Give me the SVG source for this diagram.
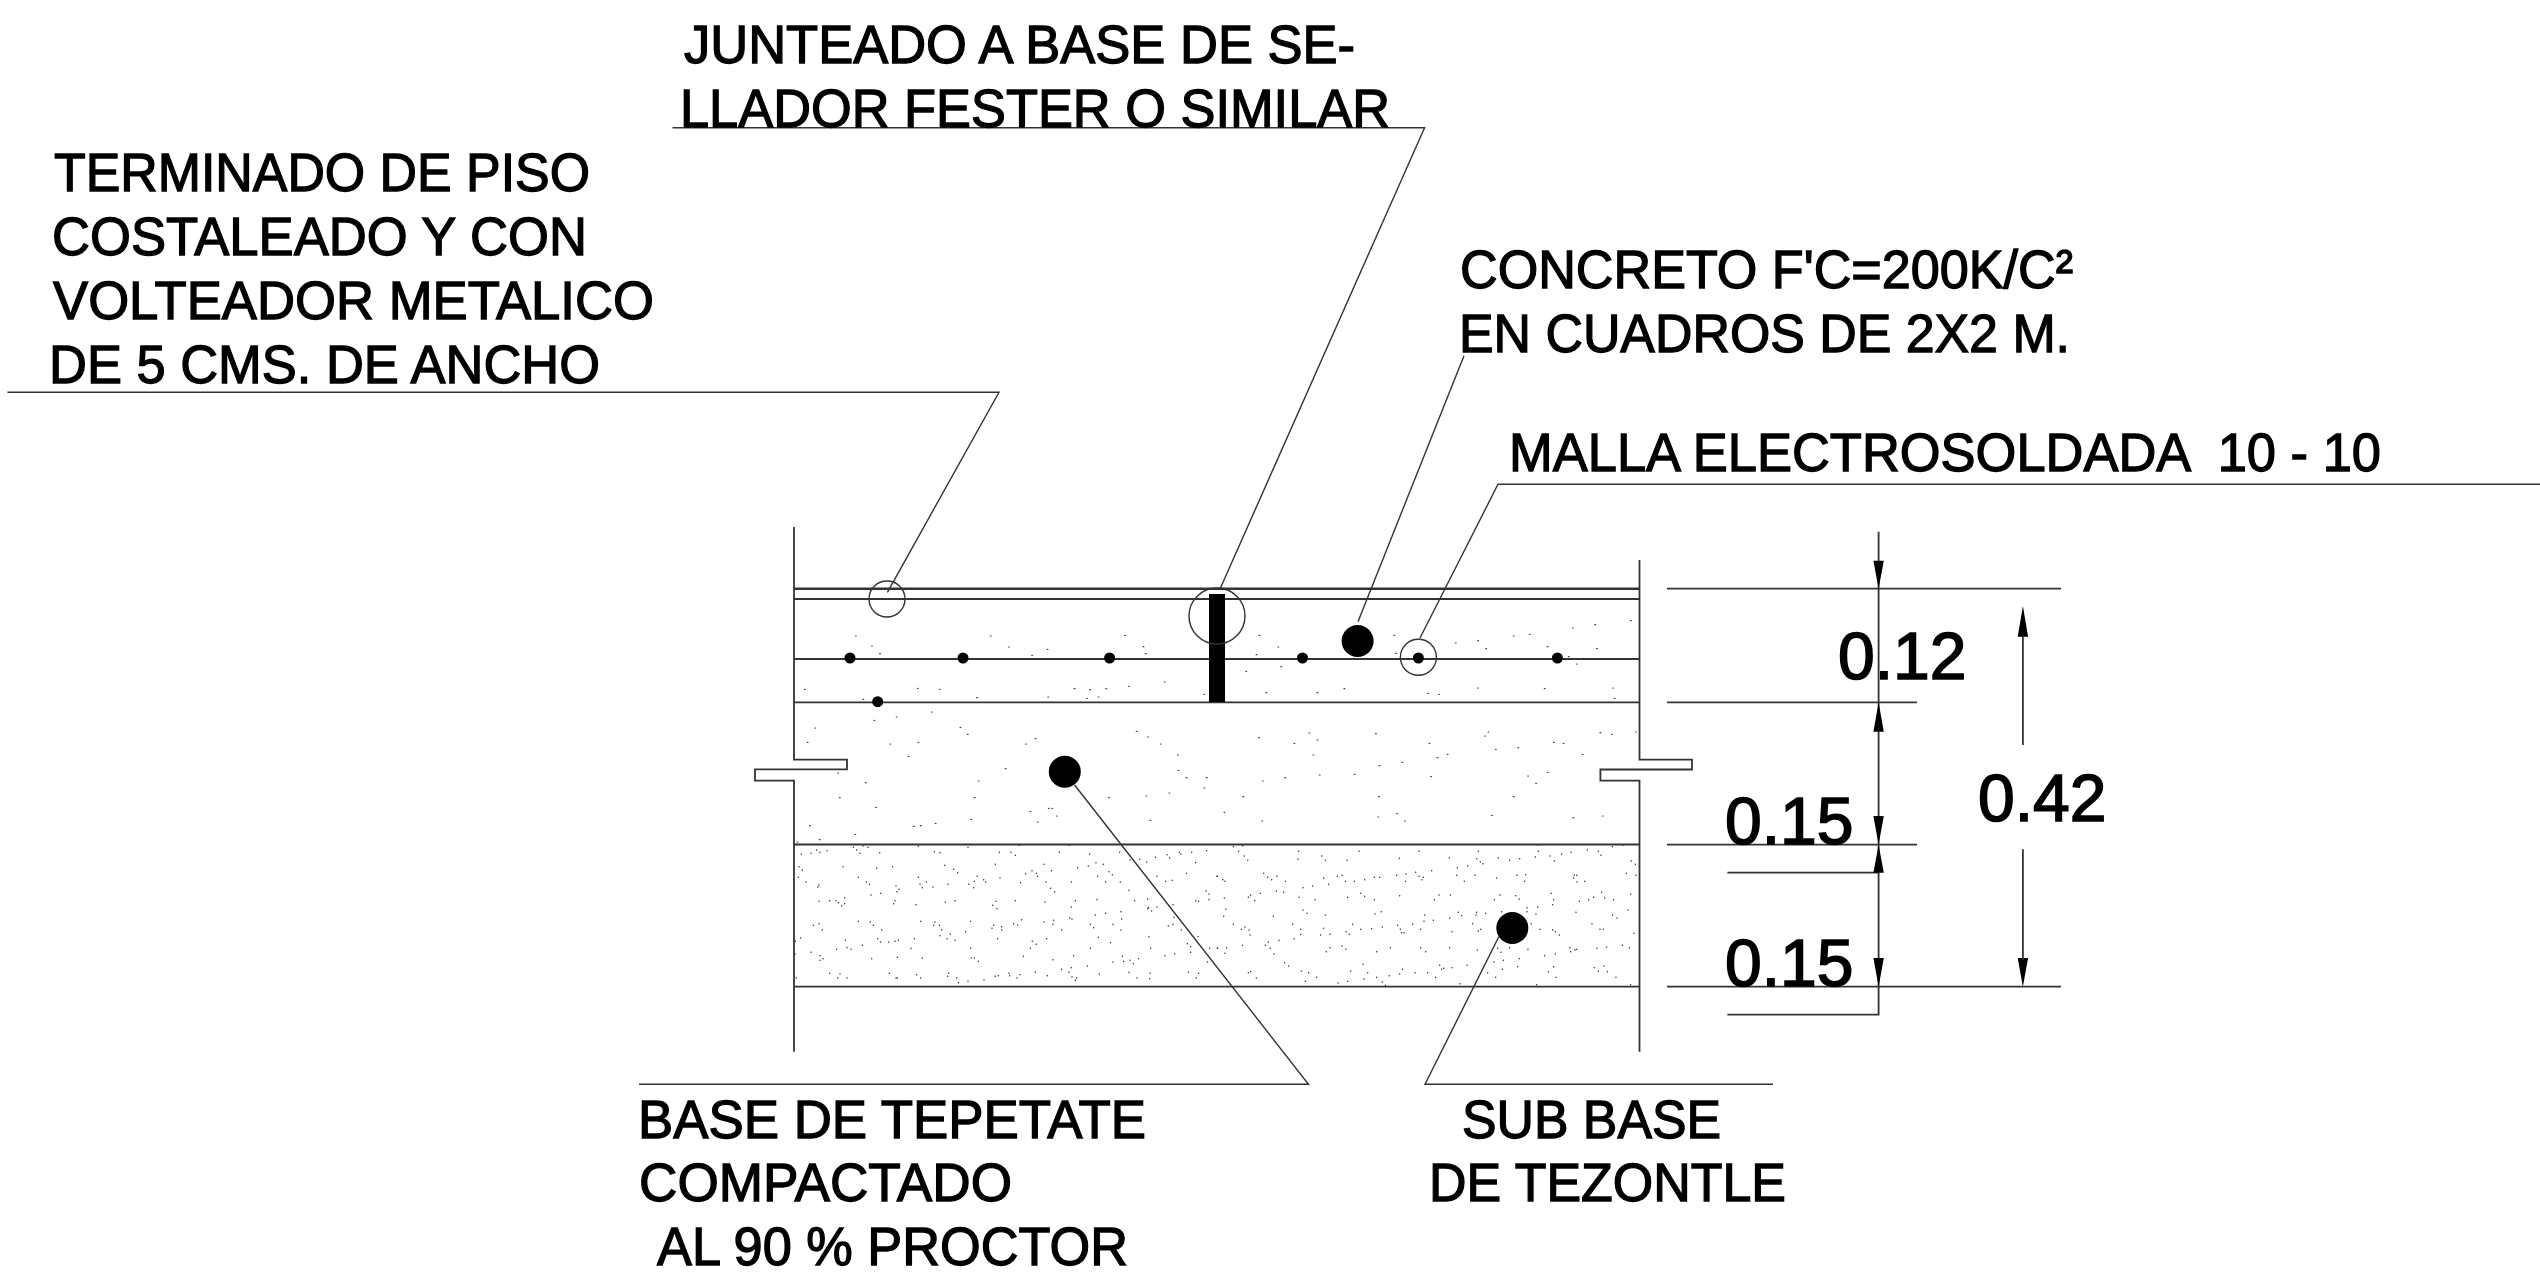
<svg xmlns="http://www.w3.org/2000/svg" width="2540" height="1278" viewBox="0 0 2540 1278">
<style>
.t{font-family:"Liberation Sans",Arial,sans-serif;font-size:54px;fill:#000;stroke:#000;stroke-width:1.3}
.d{font-family:"Liberation Sans",Arial,sans-serif;font-size:66px;fill:#000;stroke:#000;stroke-width:1.6}
.l{fill:none;stroke:#333;stroke-width:1.8}
.c{fill:none;stroke:#333;stroke-width:1.4}
.f{fill:#000;stroke:none}
.s{fill:none;stroke:#333;stroke-linecap:round}
</style>
<rect width="2540" height="1278" fill="#fff"/>
<g id="layers">
<path class="l" d="M794 527V759.7H847V769.3H755V780.7H794V1051.7"/>
<path class="l" d="M1639.5 560V759.7H1692V769.5H1600.4V780.7H1639.5V1051.7"/>
<path class="l" style="stroke-width:2.6" d="M794 588.7H1639.5"/>
<path class="l" d="M794 599H1639.5M794 659H1639.5M794 702.3H1639.5M794 844.5H1639.5M794 986.7H1639.5"/>
</g>
<g id="stipple">
<path class="s" stroke-width="4.5" transform="translate(790 840) scale(.3333)" d="M34 42h.1M63 40h.1M80 30h.1M90 37h.1M111 32h.1M190 22h.1M200 30h.1M210 40h.1M219 18h.1M234 22h.1M269 38h.1M385 19h.1M433 35h.1M450 38h.1M534 22h.1M628 37h.1M663 37h.1M676 46h.1M688 16h.1M808 37h.1M838 16h.1M899 42h.1M989 37h.1M1020 60h.1M1049 58h.1M1070 66h.1M1096 52h.1M1131 44h.1M1139 54h.1M1168 37h.1M1173 42h.1M1205 37h.1M1250 32h.1M27 80h.1M37 90h.1M25 112h.1M48 126h.1M159 80h.1M260 85h.1M308 80h.1M205 112h.1M229 126h.1M238 133h.1M464 76h.1M491 88h.1M503 98h.1M385 112h.1M409 126h.1M390 133h.1M397 143h.1M429 141h.1M474 133h.1M562 109h.1M553 124h.1M536 133h.1M551 143h.1M581 119h.1M587 126h.1M616 73h.1M630 114h.1M692 128h.1M707 101h.1M726 92h.1M739 100h.1M743 109h.1M762 73h.1M784 92h.1M768 126h.1M782 145h.1M794 155h.1M844 126h.1M863 83h.1M895 78h.1M918 68h.1M940 73h.1M957 95h.1M967 104h.1M923 109h.1M947 126h.1M991 126h.1M1017 151h.1M1101 109h.1M1127 124h.1M1147 121h.1M1190 100h.1M1217 68h.1M1281 109h.1M1248 153h.1M1257 162h.1M87 136h.1M83 141h.1M318 138h.1M327 148h.1M321 155h.1M243 165h.1M272 160h.1M87 184h.1M119 182h.1M138 182h.1M145 188h.1M155 198h.1M164 174h.1M164 191h.1M315 182h.1M311 191h.1M378 194h.1M466 186h.1M495 182h.1M618 184h.1M608 196h.1M621 206h.1M676 182h.1M765 186h.1M856 182h.1M844 201h.1M921 179h.1M1034 182h.1M1073 177h.1M1076 203h.1M1073 206h.1M1085 213h.1M1101 201h.1M1149 194h.1M1217 182h.1M1226 184h.1M1257 179h.1M70 256h.1M87 251h.1M97 270h.1M205 244h.1M241 246h.1M250 256h.1M275 270h.1M392 244h.1M435 246h.1M431 256h.1M448 256h.1M455 270h.1M481 282h.1M450 287h.1M471 296h.1M495 301h.1M527 275h.1M542 244h.1M611 256h.1M606 265h.1M635 260h.1M635 270h.1M671 251h.1M683 256h.1M695 239h.1M762 246h.1M791 241h.1M789 253h.1M815 270h.1M839 234h.1M846 237h.1M901 253h.1M911 263h.1M916 225h.1M947 220h.1M969 253h.1M993 215h.1M995 237h.1M993 270h.1M1152 232h.1M1135 258h.1M1149 253h.1M1174 270h.1M16 304h.1M32 294h.1M166 301h.1M263 296h.1M272 306h.1M296 306h.1M315 304h.1M325 301h.1M373 296h.1M623 296h.1M727 304h.1M739 313h.1M770 296h.1M925 292h.1M962 308h.1M1077 290h.1M1224 290h.1M1192 311h.1M1202 320h.1M63 337h.1M90 347h.1M90 361h.1M99 356h.1M140 328h.1M171 323h.1M183 328h.1M217 316h.1M245 356h.1M322 352h.1M363 325h.1M397 354h.1M542 325h.1M544 354h.1M553 354h.1M565 364h.1M700 349h.1M721 325h.1M789 359h.1M851 347h.1M901 325h.1M969 366h.1M997 349h.1M1001 364h.1M1020 361h.1M1030 371h.1M1046 356h.1M1082 325h.1M1125 347h.1M1154 342h.1M1202 337h.1M1252 366h.1M1259 325h.1M1283 325h.1M15 342h.1M19 414h.1M119 400h.1M143 414h.1M150 402h.1M171 414h.1M298 400h.1M318 414h.1M322 414h.1M380 404h.1M392 414h.1M476 400h.1M473 409h.1M500 414h.1M505 428h.1M534 424h.1M582 419h.1M616 409h.1M625 407h.1M657 400h.1M659 407h.1M681 414h.1M690 404h.1M736 397h.1M772 407h.1M815 388h.1M837 397h.1M844 383h.1M846 411h.1M860 414h.1M856 421h.1M892 378h.1M928 402h.1M1017 397h.1M1041 414h.1M1080 400h.1M1079 416h.1M1195 397h.1M1226 400h.1M1219 414h.1"/>
<path class="s" stroke-width="4.5" transform="translate(1215 840) scale(.3333)" d="M55 20h.1M83 17h.1M71 34h.1M88 48h.1M98 61h.1M251 34h.1M249 58h.1M320 48h.1M331 61h.1M396 61h.1M432 34h.1M553 55h.1M612 34h.1M703 54h.1M790 34h.1M785 56h.1M796 66h.1M804 71h.1M850 54h.1M884 61h.1M914 56h.1M961 51h.1M970 34h.1M1006 48h.1M1018 63h.1M1040 42h.1M1068 37h.1M1117 30h.1M1150 34h.1M1158 46h.1M1192 20h.1M1225 15h.1M968 15h.1M1249 63h.1M1261 73h.1M7 109h.1M23 119h.1M30 124h.1M146 100h.1M158 112h.1M170 119h.1M186 109h.1M211 124h.1M326 114h.1M367 109h.1M381 106h.1M391 124h.1M418 124h.1M449 119h.1M478 112h.1M494 112h.1M545 106h.1M573 102h.1M571 124h.1M602 97h.1M612 109h.1M625 112h.1M621 119h.1M650 92h.1M727 83h.1M758 78h.1M725 106h.1M780 106h.1M748 124h.1M845 114h.1M906 106h.1M932 104h.1M929 124h.1M1078 106h.1M1085 106h.1M1076 114h.1M1086 126h.1M1109 124h.1M1234 100h.1M1263 106h.1M264 143h.1M293 138h.1M341 133h.1M184 153h.1M206 157h.1M107 165h.1M100 172h.1M136 160h.1M28 174h.1M119 182h.1M252 172h.1M300 179h.1M398 172h.1M437 160h.1M449 169h.1M478 179h.1M554 167h.1M658 179h.1M672 165h.1M706 165h.1M838 179h.1M855 165h.1M902 167h.1M913 177h.1M1009 160h.1M1016 179h.1M1013 194h.1M1093 184h.1M1121 179h.1M1136 172h.1M1160 157h.1M1169 174h.1M1196 179h.1M1247 162h.1M33 208h.1M26 229h.1M175 229h.1M264 210h.1M276 220h.1M331 225h.1M480 222h.1M499 215h.1M629 225h.1M730 217h.1M740 227h.1M785 217h.1M783 225h.1M812 220h.1M860 215h.1M936 203h.1M936 215h.1M968 201h.1M963 222h.1M1083 217h.1M1193 225h.1M1206 234h.1M1239 210h.1M55 253h.1M79 268h.1M90 261h.1M102 270h.1M105 285h.1M233 253h.1M257 268h.1M257 283h.1M326 265h.1M345 283h.1M317 285h.1M413 253h.1M393 275h.1M403 283h.1M437 268h.1M470 266h.1M502 261h.1M548 256h.1M556 268h.1M560 278h.1M567 278h.1M593 253h.1M617 268h.1M627 244h.1M655 241h.1M704 234h.1M711 275h.1M773 251h.1M797 268h.1M790 273h.1M949 251h.1M975 268h.1M1013 270h.1M1021 275h.1M1033 285h.1M1131 251h.1M1155 268h.1M1165 268h.1M1257 280h.1M192 301h.1M237 296h.1M160 306h.1M151 316h.1M83 316h.1M35 323h.1M7 325h.1M30 340h.1M165 325h.1M177 342h.1M345 323h.1M334 335h.1M381 318h.1M393 328h.1M485 335h.1M526 323h.1M617 323h.1M632 335h.1M704 323h.1M787 330h.1M848 325h.1M884 323h.1M858 337h.1M939 328h.1M989 347h.1M1021 342h.1M1065 323h.1M1067 335h.1M1080 330h.1M1085 328h.1M1146 325h.1M1175 321h.1M1222 316h.1M1243 323h.1M209 368h.1M221 378h.1M259 393h.1M281 398h.1M305 412h.1M271 424h.1M100 398h.1M107 395h.1M124 414h.1M369 429h.1M398 424h.1M407 393h.1M444 373h.1M458 398h.1M447 417h.1M485 412h.1M502 426h.1M511 436h.1M523 407h.1M554 402h.1M562 388h.1M600 398h.1M638 398h.1M662 412h.1M674 376h.1M686 385h.1M680 388h.1M711 383h.1M756 376h.1M735 431h.1M837 366h.1M865 361h.1M862 388h.1M818 398h.1M842 412h.1M908 380h.1M913 356h.1M1000 395h.1M1016 380h.1M1023 412h.1M1138 383h.1M1150 393h.1M1167 378h.1M1177 395h.1M1203 412h.1M965 434h.1M1247 434h.1"/>
<path class="s" stroke-width="3.5" transform="matrix(.574 0 0 .3333 760 510)" d="M167 378h.1M402 378h.1M636 376h.1M195 408h.1M209 431h.1M434 411h.1M501 418h.1M474 436h.1M668 410h.1M672 431h.1M870 376h.1M903 411h.1M865 434h.1M847 484h.1M908 470h.1M1105 376h.1M1108 430h.1M1212 399h.1M1251 392h.1M1265 416h.1M1313 378h.1M1341 373h.1M1416 354h.1M1455 344h.1M1517 332h.1M1372 410h.1M1458 416h.1M1409 440h.1M1423 462h.1M705 516h.1M78 538h.1M275 535h.1M313 538h.1M378 563h.1M502 561h.1M548 536h.1M575 539h.1M603 536h.1M643 529h.1M570 565h.1M590 561h.1M774 553h.1M882 548h.1M971 548h.1M1018 536h.1M1164 550h.1M1183 553h.1M1251 534h.1M1367 536h.1M1486 534h.1M1489 565h.1M180 568h.1M299 606h.1M199 631h.1M238 621h.1M96 654h.1M83 697h.1M349 652h.1M362 673h.1M276 697h.1M227 702h.1M259 739h.1M480 686h.1M463 702h.1M656 664h.1M676 681h.1M698 702h.1M869 683h.1M957 669h.1M971 690h.1M931 700h.1M1073 671h.1M1166 700h.1M1269 666h.1M1263 678h.1M1282 718h.1M1321 713h.1M1383 697h.1M1400 700h.1M1464 668h.1M1484 673h.1M1526 666h.1M728 735h.1M964 735h.1M1198 733h.1M1180 743h.1M1433 733h.1M1119 757h.1M1079 767h.1M729 781h.1M743 803h.1M778 803h.1M428 776h.1M136 789h.1M184 818h.1M381 813h.1M876 813h.1M915 803h.1M975 795h.1M1036 793h.1M1169 800h.1M1338 798h.1M1372 787h.1M1352 820h.1M774 834h.1M713 849h.1M139 863h.1M374 863h.1M608 863h.1M673 858h.1M842 860h.1M1078 860h.1M1313 860h.1M202 892h.1M471 904h.1M503 895h.1M509 895h.1M517 918h.1M809 907h.1M368 928h.1M484 936h.1M306 940h.1M280 947h.1M268 949h.1M680 931h.1M875 933h.1M1077 921h.1M1110 911h.1M1124 933h.1M1275 916h.1M1417 923h.1M1468 918h.1M87 947h.1M166 973h.1M104 989h.1M65 996h.1"/>
</g>
<g id="joint">
<rect class="f" x="1209" y="594" width="16" height="108"/>
<circle class="c" cx="1217" cy="616" r="28"/>
</g>
<g id="finish-mark"><circle class="c" cx="887" cy="599" r="18"/></g>
<g id="mesh">
<circle class="f" cx="850" cy="658" r="5.5"/>
<circle class="f" cx="963" cy="658" r="5.5"/>
<circle class="f" cx="1109.6" cy="658" r="5.5"/>
<circle class="f" cx="1302.5" cy="658" r="5.5"/>
<circle class="f" cx="1418.4" cy="658" r="5.5"/>
<circle class="f" cx="1557.4" cy="658" r="5.5"/>
<circle class="f" cx="877.7" cy="701.7" r="5.5"/>
<circle class="c" cx="1418.4" cy="657.3" r="18"/>
</g>
<g id="concrete-dot"><circle class="f" cx="1357.6" cy="641" r="16"/></g>
<g id="base-dot"><circle class="f" cx="1064.8" cy="771.7" r="16"/></g>
<g id="subbase-dot"><circle class="f" cx="1512.3" cy="928" r="16"/></g>
<g id="connectors">
<path class="c" d="M7.4 392.3H999L887.4 592.3"/>
<path class="c" d="M672.5 127.7H1424.6L1220 589"/>
<path class="c" d="M1464 355.7L1358 621.7"/>
<path class="c" d="M2540 484.3H1498L1420 638"/>
<path class="c" d="M639 1084.3H1308.5L1074.6 785"/>
<path class="c" d="M1773 1084.3H1425L1498.8 936.7"/>
</g>
<g id="dimensions">
<path class="l" d="M1667 588.7H2061M1667 702.3H1917M1667 844.7H1917M1667 986.7H2061M1727.4 872.7H1878.6M1727.4 1014.7H1878.6V531.7"/>
<path class="f" d="M1878.6 588.7l-5.2-28h10.4zM1878.6 702.3l-5.2 29.4h10.4zM1878.6 844.7l-5.2-28.7h10.4zM1878.6 844.7l-5.2 28h10.4zM1878.6 986.7l-5.2-28.7h10.4zM2022.9 606l-5.2 30.7h10.4zM2022.9 986.7l-5.2-28.7h10.4z"/>
<path class="l" d="M2022.9 636V745M2022.9 849.3V960"/>
<text class="d" x="1838" y="679">0.12</text>
<text class="d" x="1978" y="821.4">0.42</text>
<text class="d" x="1725" y="844.4">0.15</text>
<text class="d" x="1725" y="986.4">0.15</text>
</g>
<g id="label-junteado">
<text class="t" x="684" y="62.8" textLength="671" lengthAdjust="spacingAndGlyphs">JUNTEADO A BASE DE SE-</text>
<text class="t" x="680" y="126.8" textLength="710" lengthAdjust="spacingAndGlyphs">LLADOR FESTER O SIMILAR</text>
</g>
<g id="label-terminado">
<text class="t" x="54" y="191" textLength="536" lengthAdjust="spacingAndGlyphs">TERMINADO DE PISO</text>
<text class="t" x="52" y="255" textLength="535" lengthAdjust="spacingAndGlyphs">COSTALEADO Y CON</text>
<text class="t" x="53" y="319.4" textLength="601" lengthAdjust="spacingAndGlyphs">VOLTEADOR METALICO</text>
<text class="t" x="49" y="383.4" textLength="551" lengthAdjust="spacingAndGlyphs">DE 5 CMS. DE ANCHO</text>
</g>
<g id="label-concreto">
<text class="t" x="1460" y="288" textLength="613" lengthAdjust="spacingAndGlyphs">CONCRETO F'C=200K/C²</text>
<text class="t" x="1459" y="352" textLength="611" lengthAdjust="spacingAndGlyphs">EN CUADROS DE 2X2 M.</text>
</g>
<g id="label-malla">
<text class="t" x="1509" y="471.4" textLength="872" lengthAdjust="spacingAndGlyphs" xml:space="preserve">MALLA ELECTROSOLDADA  10 - 10</text>
</g>
<g id="label-base">
<text class="t" x="638" y="1138" textLength="508" lengthAdjust="spacingAndGlyphs">BASE DE TEPETATE</text>
<text class="t" x="639" y="1201.4" textLength="373" lengthAdjust="spacingAndGlyphs">COMPACTADO</text>
<text class="t" x="657" y="1265.4" textLength="471" lengthAdjust="spacingAndGlyphs">AL 90 % PROCTOR</text>
</g>
<g id="label-subbase">
<text class="t" x="1462" y="1138" textLength="259" lengthAdjust="spacingAndGlyphs">SUB BASE</text>
<text class="t" x="1429" y="1201.4" textLength="357" lengthAdjust="spacingAndGlyphs">DE TEZONTLE</text>
</g>
</svg>
